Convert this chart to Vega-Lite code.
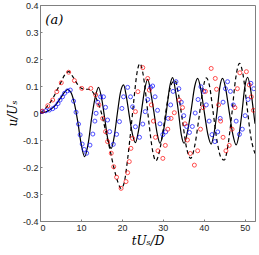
{
  "$schema": "https://vega.github.io/schema/vega-lite/v6.json",
  "width": 215,
  "height": 216,
  "padding": {"left": 40, "top": 5, "right": 4, "bottom": 34},
  "autosize": {"type": "none"},
  "background": "white",
  "config": {
    "view": {"stroke": "#808080", "strokeWidth": 1},
    "font": "Liberation Sans",
    "axis": {"labelOverlap": false, "labelSeparation": 0, "labelFontSize": 9, "labelColor": "#262626", "grid": false, "tickColor": "#808080", "tickSize": -2, "domainColor": "#808080", "labelPadding": 4, "titleFont": "DejaVu Serif", "titleFontStyle": "italic", "titleFontWeight": "normal", "titleFontSize": 12, "titleColor": "black"}
  },
  "datasets": {
    "solid": [
      {"t":0,"u":0},{"t":1,"u":0.002},{"t":2,"u":0.008},{"t":3,"u":0.018},{"t":4,"u":0.033},{"t":5,"u":0.055},{"t":6,"u":0.077},{"t":6.8,"u":0.087},{"t":7.6,"u":0.075},{"t":8.4,"u":0.035},{"t":9.2,"u":-0.03},{"t":10,"u":-0.11},{"t":10.9,"u":-0.162},{"t":11.8,"u":-0.11},{"t":12.6,"u":-0.02},{"t":13.5,"u":0.06},{"t":14.3,"u":0.095},{"t":15.1,"u":0.05},{"t":15.8,"u":-0.02},{"t":16.6,"u":-0.1},{"t":17.4,"u":-0.131},{"t":18.2,"u":-0.08},{"t":18.9,"u":0.0},{"t":19.7,"u":0.08},{"t":20.4,"u":0.104},{"t":21.1,"u":0.06},{"t":21.8,"u":-0.01},{"t":22.6,"u":-0.08},{"t":23.3,"u":-0.11},{"t":24.0,"u":-0.07},{"t":24.8,"u":0.01},{"t":25.6,"u":0.09},{"t":26.3,"u":0.125},{"t":27.0,"u":0.08},{"t":27.8,"u":0.005},{"t":28.6,"u":-0.075},{"t":29.3,"u":-0.112},{"t":30.1,"u":-0.07},{"t":30.9,"u":0.01},{"t":31.7,"u":0.1},{"t":32.4,"u":0.131},{"t":33.1,"u":0.08},{"t":33.8,"u":0.005},{"t":34.5,"u":-0.08},{"t":35.2,"u":-0.112},{"t":36.0,"u":-0.07},{"t":36.9,"u":0.01},{"t":37.8,"u":0.1},{"t":38.5,"u":0.128},{"t":39.3,"u":0.085},{"t":40.1,"u":0.005},{"t":41.0,"u":-0.08},{"t":41.8,"u":-0.115},{"t":42.5,"u":-0.075},{"t":43.2,"u":0.0},{"t":43.9,"u":0.095},{"t":44.6,"u":0.128},{"t":45.4,"u":0.085},{"t":46.2,"u":0.005},{"t":47.1,"u":-0.08},{"t":47.9,"u":-0.118},{"t":48.6,"u":-0.08},{"t":49.3,"u":0.0},{"t":50.0,"u":0.095},{"t":50.7,"u":0.132},{"t":51.4,"u":0.09},{"t":52.1,"u":0.01},{"t":52.5,"u":-0.04}
    ],
    "dashed": [
      {"t":0,"u":0},{"t":1,"u":0.012},{"t":2,"u":0.03},{"t":3,"u":0.05},{"t":4,"u":0.08},{"t":5,"u":0.11},{"t":6,"u":0.14},{"t":7,"u":0.153},{"t":8,"u":0.135},{"t":9,"u":0.11},{"t":10,"u":0.093},{"t":11,"u":0.088},{"t":12,"u":0.088},{"t":13,"u":0.075},{"t":14,"u":0.045},{"t":15,"u":0.0},{"t":16,"u":-0.065},{"t":17,"u":-0.13},{"t":18,"u":-0.2},{"t":19,"u":-0.255},{"t":19.8,"u":-0.28},{"t":20.6,"u":-0.255},{"t":21.4,"u":-0.17},{"t":22.2,"u":-0.06},{"t":23.0,"u":0.06},{"t":23.7,"u":0.15},{"t":24.4,"u":0.183},{"t":25.1,"u":0.15},{"t":25.9,"u":0.06},{"t":26.7,"u":-0.05},{"t":27.5,"u":-0.14},{"t":28.3,"u":-0.177},{"t":29.2,"u":-0.14},{"t":30.2,"u":-0.05},{"t":31.2,"u":0.05},{"t":32.2,"u":0.11},{"t":33.0,"u":0.12},{"t":33.8,"u":0.07},{"t":34.8,"u":-0.03},{"t":35.8,"u":-0.13},{"t":36.8,"u":-0.168},{"t":37.8,"u":-0.12},{"t":38.8,"u":-0.02},{"t":39.8,"u":0.09},{"t":40.6,"u":0.13},{"t":41.4,"u":0.1},{"t":42.3,"u":0.0},{"t":43.3,"u":-0.11},{"t":44.2,"u":-0.165},{"t":45,"u":-0.174},{"t":45.9,"u":-0.12},{"t":46.8,"u":-0.01},{"t":47.8,"u":0.13},{"t":48.7,"u":0.184},{"t":49.6,"u":0.14},{"t":50.5,"u":0.03},{"t":51.5,"u":-0.09},{"t":52.5,"u":-0.15}
    ],
    "blue": [
      {"t":0.5,"u":0.005},{"t":1.4,"u":0.008},{"t":2.3,"u":0.011},{"t":3.1,"u":0.016},{"t":3.8,"u":0.023},{"t":4.4,"u":0.035},{"t":4.9,"u":0.048},{"t":5.5,"u":0.06},{"t":6.0,"u":0.073},{"t":6.7,"u":0.082},{"t":7.4,"u":0.085},{"t":8.2,"u":0.044},{"t":8.8,"u":0.003},{"t":9.4,"u":-0.041},{"t":9.8,"u":-0.081},{"t":10.3,"u":-0.115},{"t":10.8,"u":-0.135},{"t":11.4,"u":-0.149},{"t":12.2,"u":-0.119},{"t":12.9,"u":-0.078},{"t":13.4,"u":-0.03},{"t":13.7,"u":-0.001},{"t":14.1,"u":0.04},{"t":14.8,"u":0.06},{"t":15.5,"u":0.06},{"t":16.0,"u":0.021},{"t":16.5,"u":-0.026},{"t":17.0,"u":-0.069},{"t":17.9,"u":-0.116},{"t":18.7,"u":-0.079},{"t":19.4,"u":-0.032},{"t":20.0,"u":0.017},{"t":20.4,"u":0.06},{"t":21.4,"u":0.095},{"t":22.1,"u":0.06},{"t":22.6,"u":0.023},{"t":23.3,"u":-0.051},{"t":24.3,"u":-0.09},{"t":25.1,"u":-0.041},{"t":25.7,"u":0.005},{"t":26.3,"u":0.05},{"t":27.0,"u":0.095},{"t":27.5,"u":0.1},{"t":28.1,"u":0.06},{"t":28.7,"u":0.01},{"t":29.3,"u":-0.04},{"t":30.0,"u":-0.08},{"t":30.7,"u":-0.07},{"t":31.3,"u":-0.02},{"t":31.9,"u":0.03},{"t":32.5,"u":0.08},{"t":33.2,"u":0.116},{"t":33.9,"u":0.09},{"t":34.5,"u":0.04},{"t":35.1,"u":-0.01},{"t":35.8,"u":-0.05},{"t":36.5,"u":-0.072},{"t":37.2,"u":-0.05},{"t":37.9,"u":0.0},{"t":38.6,"u":0.05},{"t":39.3,"u":0.097},{"t":40.0,"u":0.08},{"t":40.6,"u":0.03},{"t":41.3,"u":-0.03},{"t":42.0,"u":-0.08},{"t":42.7,"u":-0.106},{"t":43.4,"u":-0.07},{"t":44.0,"u":-0.02},{"t":44.7,"u":0.04},{"t":45.3,"u":0.09},{"t":45.8,"u":0.116},{"t":46.5,"u":0.08},{"t":47.2,"u":0.03},{"t":47.9,"u":-0.03},{"t":48.7,"u":-0.079},{"t":49.4,"u":-0.06},{"t":50.1,"u":-0.01},{"t":50.8,"u":0.05},{"t":51.5,"u":0.11},{"t":52.2,"u":0.09}
    ],
    "red": [
      {"t":0.6,"u":0.007},{"t":1.9,"u":0.027},{"t":3.1,"u":0.048},{"t":4.1,"u":0.079},{"t":5.2,"u":0.112},{"t":7.0,"u":0.151},{"t":8.4,"u":0.12},{"t":10.2,"u":0.091},{"t":12.4,"u":0.091},{"t":13.6,"u":0.067},{"t":14.4,"u":0.03},{"t":15.3,"u":-0.02},{"t":16.0,"u":-0.069},{"t":16.5,"u":-0.106},{"t":17.4,"u":-0.149},{"t":18.0,"u":-0.199},{"t":18.7,"u":-0.238},{"t":19.8,"u":-0.279},{"t":21.0,"u":-0.254},{"t":21.4,"u":-0.221},{"t":21.8,"u":-0.18},{"t":22.2,"u":-0.131},{"t":22.6,"u":-0.094},{"t":23.3,"u":0.005},{"t":23.9,"u":0.079},{"t":25.1,"u":0.168},{"t":26.3,"u":0.128},{"t":26.7,"u":0.085},{"t":27.2,"u":0.03},{"t":27.7,"u":-0.03},{"t":28.2,"u":-0.09},{"t":28.8,"u":-0.14},{"t":30.0,"u":-0.168},{"t":30.6,"u":-0.12},{"t":31.2,"u":-0.06},{"t":32.0,"u":-0.02},{"t":32.8,"u":0.001},{"t":34.0,"u":0.048},{"t":34.8,"u":0.02},{"t":35.4,"u":-0.04},{"t":36.0,"u":-0.1},{"t":36.7,"u":-0.15},{"t":37.7,"u":-0.193},{"t":38.5,"u":-0.14},{"t":39.2,"u":-0.06},{"t":39.8,"u":0.02},{"t":40.4,"u":0.08},{"t":41.8,"u":0.165},{"t":42.8,"u":0.128},{"t":43.1,"u":0.088},{"t":43.6,"u":0.03},{"t":44.1,"u":-0.03},{"t":44.7,"u":-0.09},{"t":45.4,"u":-0.14},{"t":46.2,"u":-0.12},{"t":46.9,"u":-0.06},{"t":47.6,"u":0.02},{"t":48.2,"u":0.09},{"t":48.8,"u":0.149},{"t":50.4,"u":0.153},{"t":51.1,"u":0.104},{"t":51.6,"u":0.06},{"t":52.1,"u":0.01}
    ]
  },
  "layer": [
    {
      "data": {"name": "solid"},
      "mark": {"type": "line", "color": "black", "strokeWidth": 1.2, "interpolate": "monotone", "clip": true},
      "encoding": {
        "x": {"field": "t", "type": "quantitative", "scale": {"domain": [0, 52.5], "nice": false},
          "axis": {"values": [0,10,20,30,40,50], "title": "tUₛ/D", "titlePadding": 3}},
        "y": {"field": "u", "type": "quantitative", "scale": {"domain": [-0.4, 0.4], "nice": false},
          "axis": {"tickCount": 8, "labelOverlap": false, "labelExpr": "replace(format(datum.value, '~g'), '\u2212', '-')", "title": "u/Uₛ", "titlePadding": 3}}
      }
    },
    {
      "data": {"name": "dashed"},
      "mark": {"type": "line", "color": "black", "strokeWidth": 1.2, "strokeDash": [4, 3], "interpolate": "monotone", "clip": true},
      "encoding": {"x": {"field": "t", "type": "quantitative"}, "y": {"field": "u", "type": "quantitative"}}
    },
    {
      "data": {"name": "blue"},
      "mark": {"type": "point", "shape": "circle", "filled": false, "color": "#0000ff", "size": 16, "strokeWidth": 1, "clip": true},
      "encoding": {"x": {"field": "t", "type": "quantitative"}, "y": {"field": "u", "type": "quantitative"}}
    },
    {
      "data": {"name": "red"},
      "mark": {"type": "point", "shape": "circle", "filled": false, "color": "#ff0000", "size": 16, "strokeWidth": 1, "clip": true},
      "encoding": {"x": {"field": "t", "type": "quantitative"}, "y": {"field": "u", "type": "quantitative"}}
    },
    {
      "data": {"values": [{"t": 1.3, "u": 0.345, "txt": "(a)"}]},
      "mark": {"type": "text", "font": "DejaVu Serif", "fontStyle": "italic", "fontSize": 13, "align": "left", "baseline": "middle", "color": "black"},
      "encoding": {"x": {"field": "t", "type": "quantitative"}, "y": {"field": "u", "type": "quantitative"}, "text": {"field": "txt"}}
    }
  ]
}
